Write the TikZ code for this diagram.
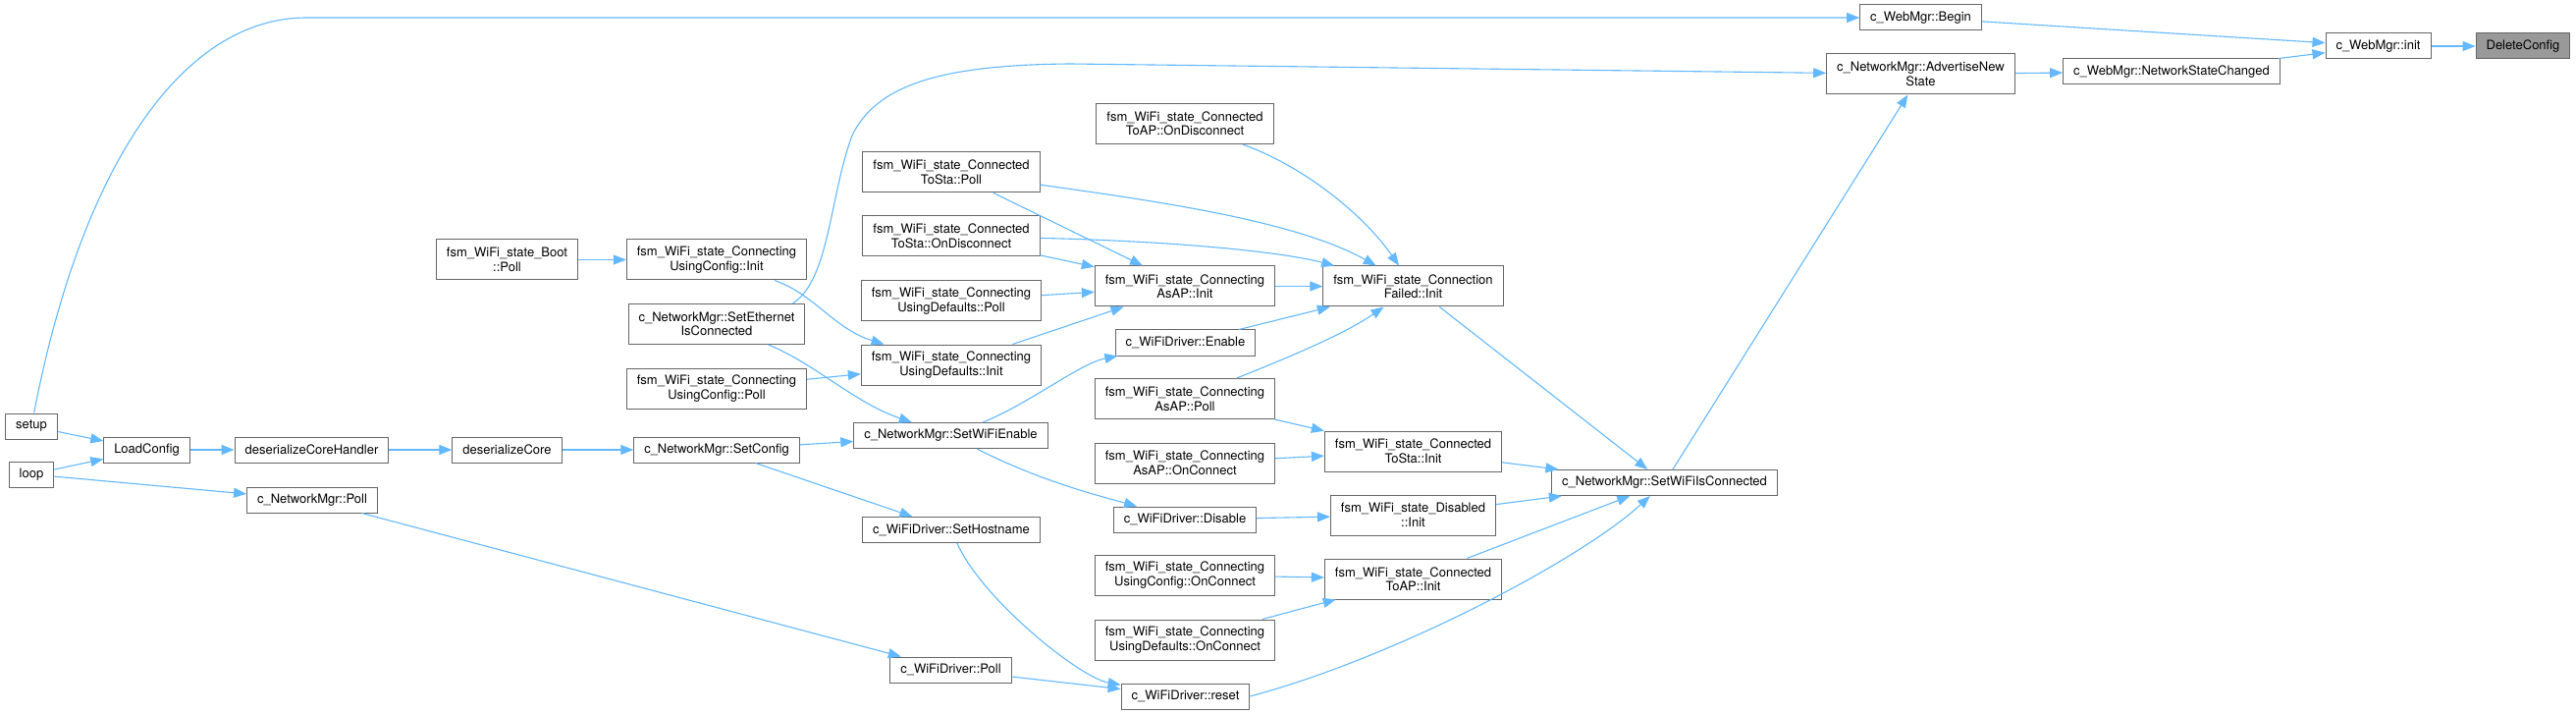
\documentclass[tikz,border=0pt]{standalone}
\usepackage{fontspec}
\setmainfont{TeX Gyre Heros}
\usetikzlibrary{arrows.meta}
\definecolor{edgeblue}{RGB}{99,184,255}
\definecolor{boxgray}{RGB}{102,102,102}
\definecolor{selfgray}{RGB}{153,153,153}

\begin{document}
\begin{tikzpicture}[x=1pt,y=-1pt,
  func/.style={draw=boxgray,line width=1pt,fill=white,inner xsep=10.5pt,inner ysep=2pt,
    minimum height=26pt,align=center,font=\fontsize{13}{14.5}\selectfont},
  func2/.style={func,minimum height=41pt},
  self/.style={func,fill=selfgray},
  call/.style={->,draw=edgeblue,line width=1.1pt,>={Triangle[length=13pt,width=10pt]}}]
\useasboundingbox (0,0) rectangle (2624,727);

% Callee and its direct callers
\node[self] (dc) at (2570,47) {DeleteConfig};
\node[func] (wminit) at (2422.5,47) {c\_WebMgr::init};
\node[func] (wmbegin) at (1956.5,18) {c\_WebMgr::Begin};
\node[func] (nsc) at (2212,73) {c\_WebMgr::NetworkStateChanged};
\node[func2] (adv) at (1956.5,75.5) {c\_NetworkMgr::AdvertiseNew\\State};
\node[func] (swic) at (1695.5,491.5) {c\_NetworkMgr::SetWiFiIsConnected};

% State init column
\node[func2] (cfinit) at (1439.5,291.5) {fsm\_WiFi\_state\_Connection\\Failed::Init};
\node[func2] (stainit) at (1439.5,459.5) {fsm\_WiFi\_state\_Connected\\ToSta::Init};
\node[func2] (disinit) at (1439.5,524.5) {fsm\_WiFi\_state\_Disabled\\::Init};
\node[func2] (apinit) at (1439.5,589.5) {fsm\_WiFi\_state\_Connected\\ToAP::Init};

% Next column
\node[func2] (apdisc) at (1207,126) {fsm\_WiFi\_state\_Connected\\ToAP::OnDisconnect};
\node[func2] (asapinit) at (1207,291.5) {fsm\_WiFi\_state\_Connecting\\AsAP::Init};
\node[func] (enable) at (1207.5,349) {c\_WiFiDriver::Enable};
\node[func2] (asappoll) at (1207,406) {fsm\_WiFi\_state\_Connecting\\AsAP::Poll};
\node[func2] (asapconn) at (1207,471.5) {fsm\_WiFi\_state\_Connecting\\AsAP::OnConnect};
\node[func] (disable) at (1207,529) {c\_WiFiDriver::Disable};
\node[func2] (cfgconn) at (1207,585.5) {fsm\_WiFi\_state\_Connecting\\UsingConfig::OnConnect};
\node[func2] (defconn) at (1207,651.5) {fsm\_WiFi\_state\_Connecting\\UsingDefaults::OnConnect};
\node[func] (reset) at (1207.5,709) {c\_WiFiDriver::reset};

\node[func2] (stapoll) at (969,175.5) {fsm\_WiFi\_state\_Connected\\ToSta::Poll};
\node[func2] (stadisc) at (969,240.5) {fsm\_WiFi\_state\_Connected\\ToSta::OnDisconnect};
\node[func2] (defpoll) at (969,306.5) {fsm\_WiFi\_state\_Connecting\\UsingDefaults::Poll};
\node[func2] (definit) at (969,371.5) {fsm\_WiFi\_state\_Connecting\\UsingDefaults::Init};
\node[func] (wifien) at (968.5,443.5) {c\_NetworkMgr::SetWiFiEnable};
\node[func] (hostname) at (969,539.5) {c\_WiFiDriver::SetHostname};
\node[func] (drvpoll) at (968.5,682) {c\_WiFiDriver::Poll};

\node[func2] (cfginit) at (730,264.5) {fsm\_WiFi\_state\_Connecting\\UsingConfig::Init};
\node[func2] (ethconn) at (730,330) {c\_NetworkMgr::SetEthernet\\IsConnected};
\node[func2] (cfgpoll) at (730,395.5) {fsm\_WiFi\_state\_Connecting\\UsingConfig::Poll};
\node[func] (setcfg) at (730,458) {c\_NetworkMgr::SetConfig};

% Left part
\node[func2] (bootpoll) at (516.5,264.5) {fsm\_WiFi\_state\_Boot\\::Poll};
\node[func] (dcore) at (516.5,458) {deserializeCore};
\node[func] (dcorehdl) at (317.5,458) {deserializeCoreHandler};
\node[func] (nmpoll) at (318,509) {c\_NetworkMgr::Poll};
\node[func] (loadcfg) at (149.5,458) {LoadConfig};
\node[func] (setup) at (32,434) {setup};
\node[func] (loop) at (32,483) {loop};

% Calls
\draw[call] (wminit) -- (dc);
\draw[call] (wmbegin) -- (wminit);
\draw[call] (nsc) -- (wminit);
\draw[call] (adv) -- (nsc);
\draw[call] (setup) .. controls (85,160) and (190,18) .. (312,18) -- (wmbegin);
\draw[call] ([xshift=-13pt]ethconn.north east) .. controls (845,285) and (845,200) .. (868,138)
   .. controls (893,86) and (960,66) .. (1090,65) -- (adv);
\draw[call] (swic) -- (adv);

\draw[call] (cfinit) -- (swic);
\draw[call] (stainit) -- (swic);
\draw[call] (disinit) -- (swic);
\draw[call] (apinit) -- (swic);
\draw[call] (reset.east) .. controls (1420,670) and (1610,570) .. (swic);

\draw[call] (apdisc) .. controls (1330,170) and (1390,220) .. (cfinit);
\draw[call] (stapoll) .. controls (1180,205) and (1320,225) .. (cfinit);
\draw[call] (stadisc) .. controls (1180,245) and (1300,255) .. (cfinit);
\draw[call] (asapinit) -- (cfinit);
\draw[call] (enable) -- (cfinit);
\draw[call] (asappoll) .. controls (1310,365) and (1370,340) .. (cfinit);

\draw[call] (stapoll) -- (asapinit);
\draw[call] (stadisc) -- (asapinit);
\draw[call] (defpoll) -- (asapinit);
\draw[call] (definit) -- (asapinit);
\draw[call] (asappoll) -- (stainit);
\draw[call] (asapconn) -- (stainit);
\draw[call] (disable) -- (disinit);
\draw[call] (cfgconn) -- (apinit);
\draw[call] (defconn) -- (apinit);

\draw[call] (wifien) .. controls (1050,410) and (1100,370) .. (enable);
\draw[call] (wifien) .. controls (1060,490) and (1120,505) .. (disable);
\draw[call] (hostname) .. controls (1000,610) and (1100,690) .. (reset);
\draw[call] (drvpoll) -- (reset);

\draw[call] (cfginit) .. controls (830,300) and (850,335) .. (definit);
\draw[call] (cfgpoll) -- (definit);
\draw[call] (ethconn) .. controls (830,370) and (870,410) .. (wifien);
\draw[call] (setcfg) -- (wifien);
\draw[call] (setcfg) -- (hostname);

\draw[call] (bootpoll) -- (cfginit);
\draw[call] (dcore) -- (setcfg);
\draw[call] (dcorehdl) -- (dcore);
\draw[call] (loadcfg) -- (dcorehdl);
\draw[call] (setup) -- (loadcfg);
\draw[call] (loop) -- (loadcfg);
\draw[call] (loop) -- (nmpoll);
\draw[call] (nmpoll) -- (drvpoll);
\end{tikzpicture}
\end{document}
